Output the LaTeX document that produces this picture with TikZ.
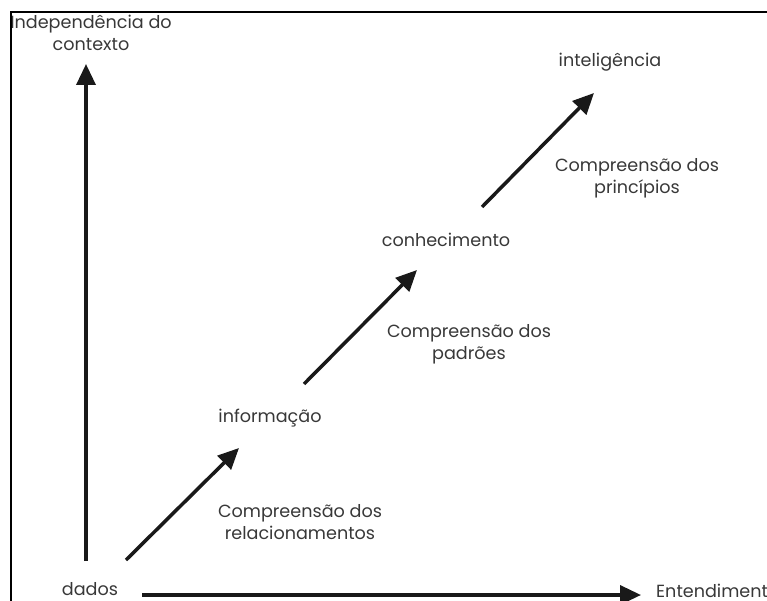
\documentclass[tikz,border=0pt]{standalone}
\usepackage{fontspec}
\setmainfont{Poppins}
\usetikzlibrary{arrows.meta, positioning}

\begin{document}
\begin{tikzpicture}[
  x=1pt, y=-1pt,
  >={Triangle[length=21pt,width=19pt]},
  lbl/.style={text=black!78, align=center, inner sep=0pt,
              font=\fontsize{17.6}{22}\selectfont},
  arr/.style={line width=3.5pt, ->, draw=black!90}
]
  \useasboundingbox (0,0) rectangle (767,601);
  % labels
  \node[lbl] (indep) at (91,33) {Independência do\\contexto};
  \node[lbl] (dados) at (90,589) {dados};
  \node[lbl, anchor=west] (entend) at (656,591) {Entendimento};
  \node[lbl] (info) at (270,418) {informação};
  \node[lbl] (conh) at (446,240) {conhecimento};
  \node[lbl] (intel) at (610,62) {inteligência};
  \node[lbl] (crel) at (300,522) {Compreensão dos\\relacionamentos};
  \node[lbl] (cpad) at (469,344) {Compreensão dos\\padrões};
  \node[lbl] (cpri) at (637,178) {Compreensão dos\\princípios};
  % arrow ends
  \coordinate (ytail) at (86,561);
  \coordinate (ytip) at (86,64);
  \coordinate (xtail) at (142,595);
  \coordinate (xtip) at (641,595);
  \coordinate (d1) at (126,560);
  \coordinate (i1) at (239,448);
  \coordinate (i2) at (304,384);
  \coordinate (c1) at (417,270);
  \coordinate (c2) at (482,207);
  \coordinate (t1) at (594,93);
  \draw[arr] (ytail) -- (ytip);
  \draw[arr] (xtail) -- (xtip);
  \draw[arr] (d1) -- (i1);
  \draw[arr] (i2) -- (c1);
  \draw[arr] (c2) -- (t1);
  % frame
  \draw[line width=2pt] (767,12) -| (11,601);
\end{tikzpicture}
\end{document}
